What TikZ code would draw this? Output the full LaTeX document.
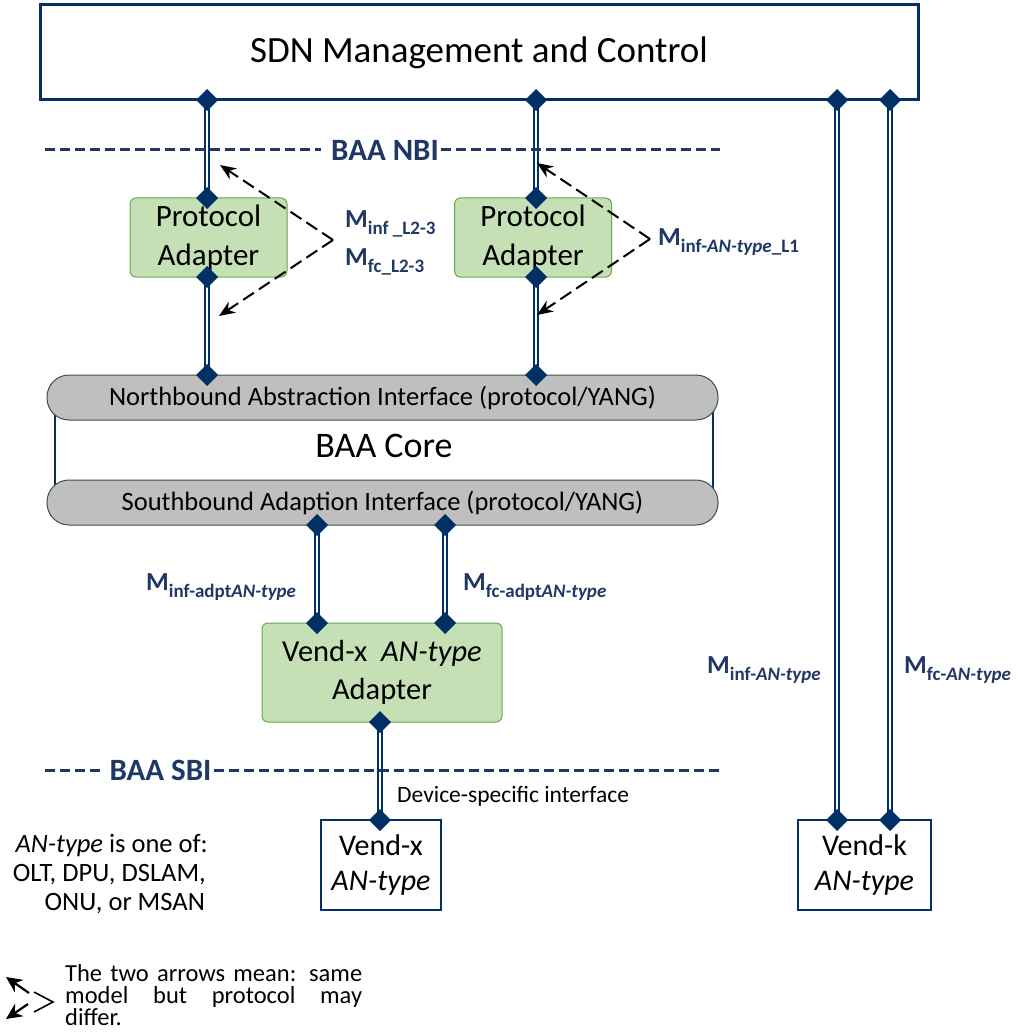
\documentclass[tikz,border=0pt]{standalone}
\usepackage{fontspec}
\setmainfont{Carlito}
\usetikzlibrary{shapes.geometric,arrows.meta}
\pgfdeclarelayer{back}
\pgfdeclarelayer{bg}
\pgfsetlayers{back,bg,main}
\definecolor{navy}{RGB}{0,48,100}
\definecolor{lblnavy}{RGB}{31,56,100}
\definecolor{pagreen}{RGB}{197,224,180}
\definecolor{pagreenb}{RGB}{106,168,79}
\definecolor{pillgray}{RGB}{191,191,191}
\definecolor{pillb}{RGB}{64,80,72}
\newcommand{\fsz}[2]{\fontsize{#1}{#2}\selectfont}
\newcommand{\Msub}[1]{M\raisebox{-7pt}{\fsz{19}{19}#1}}
\begin{document}
\begin{tikzpicture}[x=1pt,y=-1pt,
  dia/.style={diamond, fill=navy, inner sep=0pt, outer sep=0pt, minimum width=22pt, minimum height=22pt},
  dbl/.style={draw=navy, line width=1.8pt, double=white, double distance=2.2pt},
  padapt/.style={draw=pagreenb, fill=pagreen, line width=1pt, rounded corners=6pt, minimum width=157pt, minimum height=79pt, inner sep=0pt, align=center, font=\fsz{31}{39}},
  pillbox/.style={draw=pillb, fill=pillgray, line width=1pt, rounded corners=22pt, minimum width=671pt, minimum height=45pt, inner sep=0pt, font=\fsz{26.5}{26.5}},
  vendbox/.style={draw=navy, line width=2pt, fill=white, inner sep=0pt, align=center, font=\fsz{30}{35}},
  dashedarrow/.style={draw=black, line width=2pt, dash pattern=on 13pt off 6pt, -{Stealth[length=16pt,width=13pt]}},
  legarrow/.style={draw=black, line width=2.2pt, -{Stealth[length=16pt,width=15pt]}},
  mlabel/.style={text=lblnavy, font=\bfseries\fsz{26}{26}, inner sep=0pt, anchor=base west},
  sbline/.style={draw=lblnavy, line width=3pt, dash pattern=on 10pt off 5pt},
  bartext/.style={text=lblnavy, font=\bfseries\fsz{31}{31}, inner sep=0pt},
  plain/.style={inner sep=0pt}
  ]
\begin{pgfonlayer}{back}
\fill[white] (0,0) rectangle (1017,1032);
\end{pgfonlayer}
\useasboundingbox (0,0) rectangle (1017,1032);

% main boxes
\node[draw=navy, line width=3pt, minimum width=878pt, minimum height=95pt, inner sep=0pt, font=\fsz{37}{37}] (sdn) at (479,52.5) {SDN Management and Control};
\node[padapt] (pa1) at (208.5,237.5) {Protocol\\Adapter};
\node[padapt] (pa2) at (533,237.5) {Protocol\\Adapter};
\node[draw=navy, line width=2pt, minimum width=658pt, minimum height=92pt, inner sep=0pt, font=\fsz{36}{36}] (core) at (384,446) {BAA Core};
\node[pillbox] (nai) at (382.5,397.5) {Northbound Abstraction Interface (protocol/YANG)};
\node[pillbox] (sai) at (382.5,502.5) {Southbound Adaption Interface (protocol/YANG)};
\node[padapt, minimum width=240pt, minimum height=99pt, font=\fsz{30.5}{38}] (adp) at (382,672.5) {Vend-x\ \ \textit{AN-type}\\Adapter};
\node[vendbox, minimum width=120pt, minimum height=90pt] (vx) at (381,865) {Vend-x\\\textit{AN-type}};
\node[vendbox, minimum width=133pt, minimum height=90pt] (vk) at (864.5,865) {Vend-k\\\textit{AN-type}};

% diamonds
\node[dia] (ds1) at (207,100) {};
\node[dia] (ds2) at (536,100) {};
\node[dia] (ds3) at (837,100) {};
\node[dia] (ds4) at (890,100) {};
\node[dia] (dp1t) at (207,198) {};
\node[dia] (dp1b) at (207,277) {};
\node[dia] (dp2t) at (536,198) {};
\node[dia] (dp2b) at (536,277) {};
\node[dia] (dn1) at (207,375) {};
\node[dia] (dn2) at (536,375) {};
\node[dia] (dso1) at (317,525) {};
\node[dia] (dso2) at (445,525) {};
\node[dia] (dad1) at (317,623) {};
\node[dia] (dad2) at (445,623) {};
\node[dia] (dadb) at (380,722) {};
\node[dia] (dvx) at (380,820) {};
\node[dia] (dvk1) at (837,820) {};
\node[dia] (dvk2) at (890,820) {};

% double connectors
\begin{pgfonlayer}{bg}
\draw[dbl] (ds1.center) -- (dp1t.center);
\draw[dbl] (dp1b.center) -- (dn1.center);
\draw[dbl] (ds2.center) -- (dp2t.center);
\draw[dbl] (dp2b.center) -- (dn2.center);
\draw[dbl] (dso1.center) -- (dad1.center);
\draw[dbl] (dso2.center) -- (dad2.center);
\draw[dbl] (dadb.center) -- (dvx.center);
\draw[dbl] (ds3.center) -- (dvk1.center);
\draw[dbl] (ds4.center) -- (dvk2.center);
\end{pgfonlayer}

% BAA NBI / SBI
\coordinate (nbiL) at (45,150);
\coordinate (nbiR) at (720,150);
\node[bartext] (nbi) at (385,150) {BAA NBI};
\draw[sbline] (nbiL) -- ([xshift=-10pt]nbi.west);
\draw[sbline] ([xshift=2pt]nbi.east) -- (nbiR);
\coordinate (sbiL) at (45,770);
\coordinate (sbiR) at (720,770);
\node[bartext] (sbi) at (160.5,770) {BAA SBI};
\draw[sbline] (sbiL) -- ([xshift=-8pt]sbi.west);
\draw[sbline] ([xshift=2pt]sbi.east) -- (sbiR);

% dashed arrows
\coordinate (ap1) at (333,240);
\coordinate (at1u) at (220,165);
\coordinate (at1d) at (219,316);
\draw[dashedarrow] (ap1) -- (at1u);
\draw[dashedarrow] (ap1) -- (at1d);
\coordinate (ap2) at (650,239);
\coordinate (at2u) at (537,163);
\coordinate (at2d) at (537,315);
\draw[dashedarrow] (ap2) -- (at2u);
\draw[dashedarrow] (ap2) -- (at2d);

% M labels
\node[mlabel] (m1) at (345,228) {\Msub{inf \_L2-3}};
\node[mlabel] (m2) at (345,265) {\Msub{fc\_L2-3}};
\node[mlabel] (m3) at (658,245) {\Msub{inf-\textit{AN-type}\_L1}};
\node[mlabel] (m4) at (146,590) {\Msub{inf-adpt\textit{AN-type}}};
\node[mlabel] (m5) at (463,590) {\Msub{fc-adpt\textit{AN-type}}};
\node[mlabel] (m6) at (707,673) {\Msub{inf-\textit{AN-type}}};
\node[mlabel] (m7) at (904,673) {\Msub{fc-\textit{AN-type}}};

% other texts
\node[plain, anchor=west, font=\fsz{23.5}{23.5}] (dsi) at (397,796) {Device-specific interface};
\node[plain, anchor=base east, font=\fsz{26.5}{26.5}] (note1) at (208,852) {\textit{AN-type} is one of:};
\node[plain, anchor=base east, font=\fsz{26.5}{26.5}] (note2) at (206,881) {OLT, DPU, DSLAM,};
\node[plain, anchor=base east, font=\fsz{26.5}{26.5}] (note3) at (205,910) {ONU, or MSAN};

% legend
\coordinate (lu1) at (29,993);
\coordinate (lu2) at (6,977);
\coordinate (ld1) at (28,1004);
\coordinate (ld2) at (6,1019);
\draw[legarrow] (lu1) -- (lu2);
\draw[legarrow] (ld1) -- (ld2);
\coordinate (lc1) at (34,992);
\coordinate (lc2) at (53,1002);
\coordinate (lc3) at (34,1012);
\draw[line width=1.6pt] (lc1) -- (lc2) -- (lc3);
\node[plain, anchor=north west, text width=297pt, align=justify, font=\fsz{24.5}{22}] (leg) at (65,964) {The two arrows mean: same\linebreak model but protocol may\linebreak differ.};
\end{tikzpicture}
\end{document}
